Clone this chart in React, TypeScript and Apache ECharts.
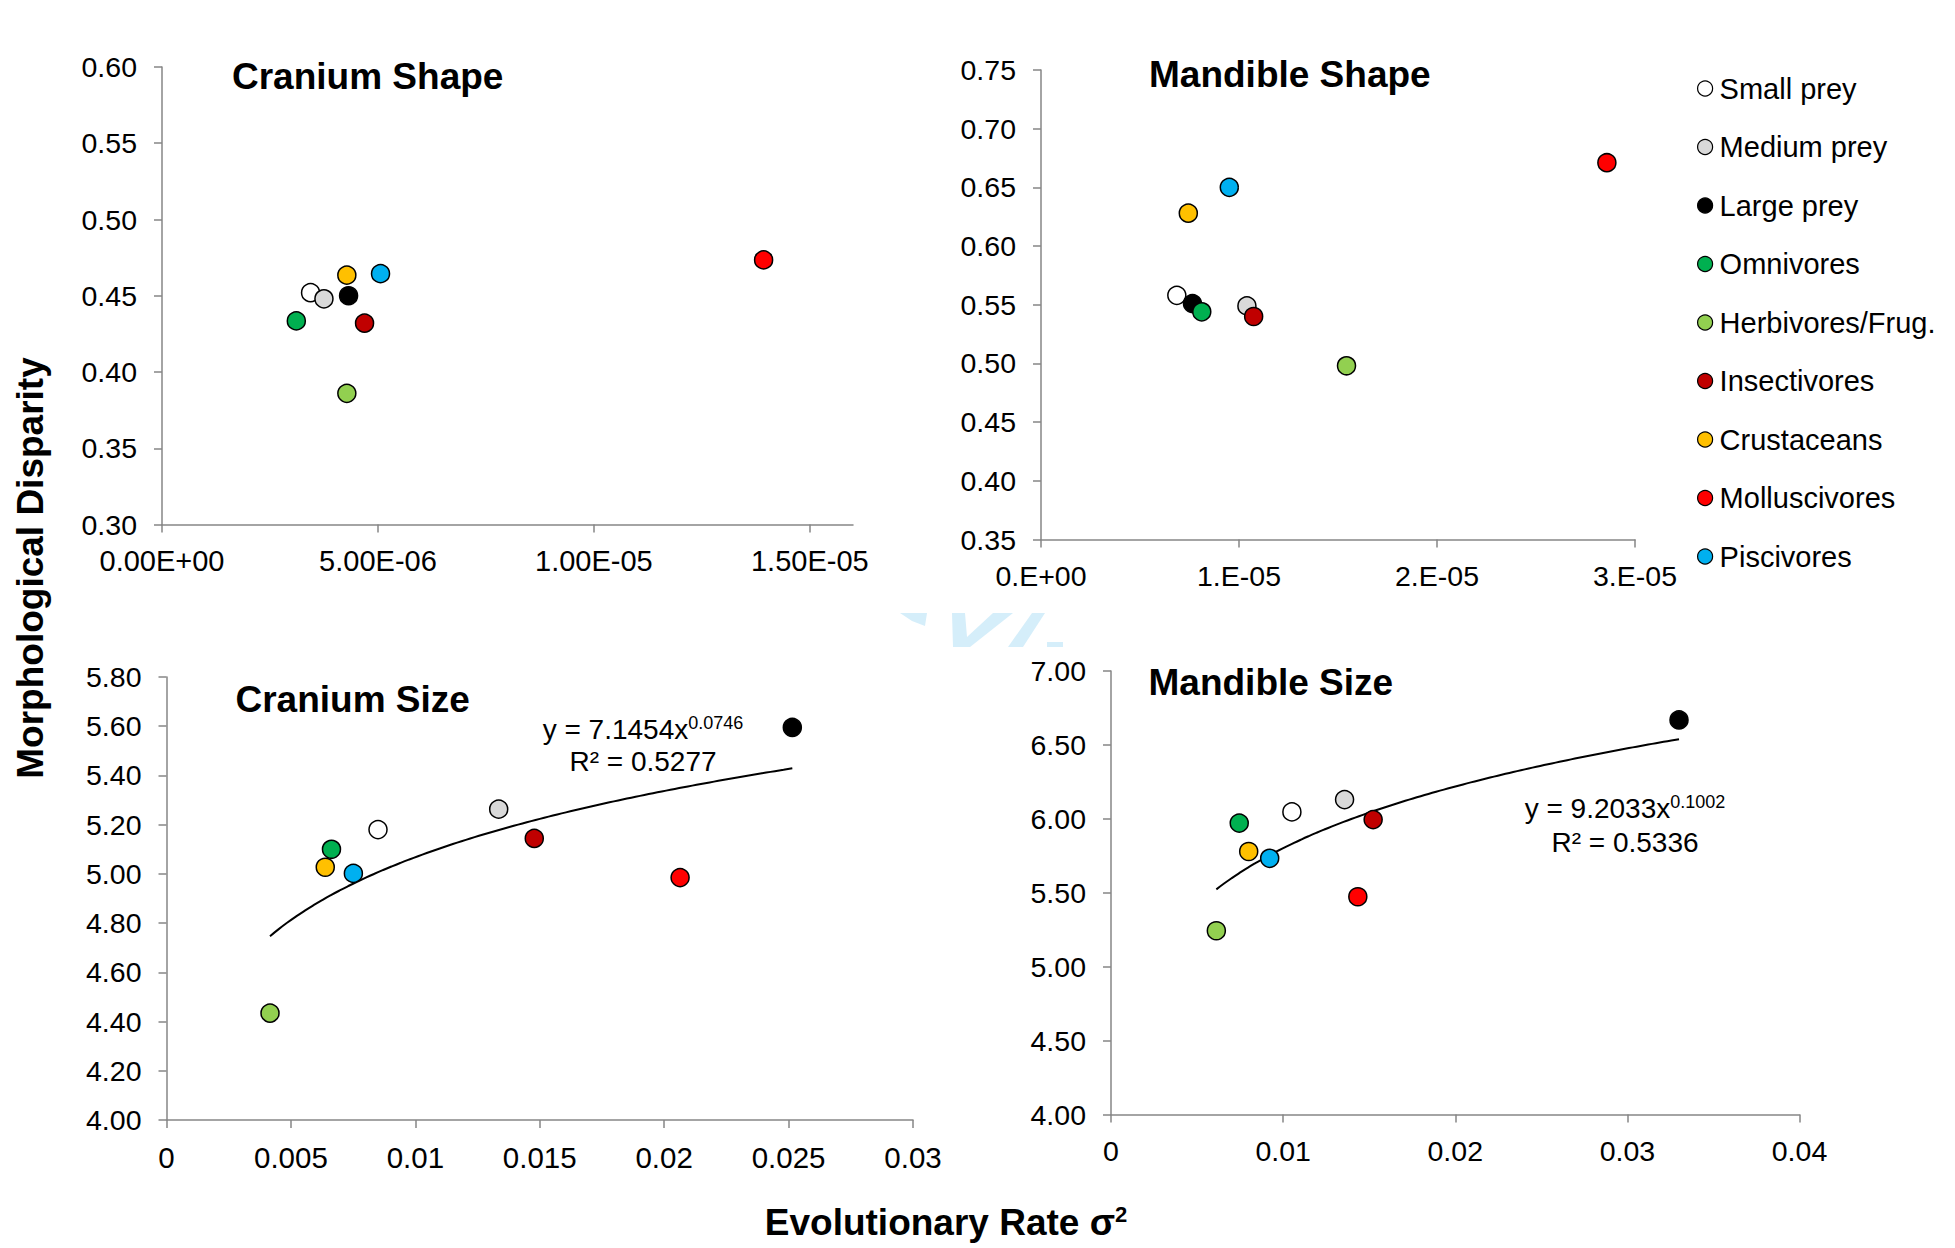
import React, { useEffect, useRef } from 'react';
import * as echarts from 'echarts';

const categories = ['Small prey', 'Medium prey', 'Large prey', 'Omnivores', 'Herbivores/Frug.', 'Insectivores', 'Crustaceans', 'Molluscivores', 'Piscivores'];
const categoryColors = ['#FFFFFF', '#D9D9D9', '#000000', '#00B050', '#92D050', '#C00000', '#FFC000', '#FF0000', '#00B0F0'];

// Cranium Shape
const craniumShapeRate = [3.44e-6, 3.75e-6, 4.32e-6, 3.11e-6, 4.28e-6, 4.69e-6, 4.28e-6, 13.93e-6, 5.06e-6];
const craniumShapeDisparity = [0.452, 0.448, 0.450, 0.4335, 0.386, 0.432, 0.4635, 0.4735, 0.4645];
// Mandible Shape
const mandibleShapeRate = [0.686e-5, 1.04e-5, 0.765e-5, 0.812e-5, 1.543e-5, 1.074e-5, 0.744e-5, 2.858e-5, 0.951e-5];
const mandibleShapeDisparity = [0.558, 0.549, 0.551, 0.544, 0.498, 0.540, 0.628, 0.671, 0.650];
// Cranium Size
const craniumSizeRate = [0.0085, 0.01335, 0.02515, 0.00663, 0.00416, 0.01478, 0.00638, 0.02064, 0.00751];
const craniumSizeDisparity = [5.18, 5.263, 5.595, 5.10, 4.434, 5.144, 5.027, 4.985, 5.002];
// Mandible Size
const mandibleSizeRate = [0.01051, 0.01357, 0.033, 0.00745, 0.00612, 0.01523, 0.0080, 0.01434, 0.00922];
const mandibleSizeDisparity = [6.047, 6.13, 6.669, 5.971, 5.243, 5.995, 5.779, 5.473, 5.733];

// Power-law trend lines printed on the chart: y = a * x^b
const craniumSizeTrendCoef = [7.1454, 0.0746];
const craniumSizeTrendRange = [0.00416, 0.02515];
const mandibleSizeTrendCoef = [9.2033, 0.1002];
const mandibleSizeTrendRange = [0.00612, 0.033];

const craniumShapeXTicks = [0, 5e-6, 1e-5, 1.5e-5];

const FONT = '"Liberation Sans", Arial, sans-serif';
const AXIS_COLOR = '#868686';

function sci(v: number, digits: number): string {
  if (Math.abs(v) < 1e-20) return (digits === 0 ? '0.' : '0.' + '0'.repeat(digits)) + 'E+00';
  const [m, e] = v.toExponential(digits).split('e');
  const n = parseInt(e, 10);
  const mant = digits === 0 ? m + '.' : m;
  return mant + 'E' + (n < 0 ? '-' : '+') + String(Math.abs(n)).padStart(2, '0');
}

function trendPoints(coef: number[], range: number[]): number[][] {
  const pts: number[][] = [];
  const n = 60;
  for (let i = 0; i <= n; i++) {
    const x = range[0] + ((range[1] - range[0]) * i) / n;
    pts.push([x, coef[0] * Math.pow(x, coef[1])]);
  }
  return pts;
}

const baseAxis = (extra: any) => ({
  type: 'value',
  axisLine: { show: true, onZero: false, lineStyle: { color: AXIS_COLOR, width: 1.5 } },
  axisTick: { show: true, length: 8, lineStyle: { color: AXIS_COLOR, width: 1.5 } },
  splitLine: { show: false },
  ...extra,
});

const xLabel = (fmt: (v: number) => string, size = 28) => ({
  fontSize: size,
  fontFamily: FONT,
  color: '#000',
  margin: 22,
  formatter: fmt,
});
const yLabel = () => ({
  fontSize: 28.5,
  fontFamily: FONT,
  color: '#000',
  margin: 25,
  formatter: (v: number) => v.toFixed(2),
});

export default function App() {
  const ref = useRef<HTMLDivElement>(null);
  useEffect(() => {
    if (!ref.current) return;
    const chart = echarts.init(ref.current, undefined, { renderer: 'svg' });

    const panels = [
      { xs: craniumShapeRate, ys: craniumShapeDisparity },
      { xs: mandibleShapeRate, ys: mandibleShapeDisparity },
      { xs: craniumSizeRate, ys: craniumSizeDisparity },
      { xs: mandibleSizeRate, ys: mandibleSizeDisparity },
    ];

    const series: any[] = [];
    panels.forEach((p, pi) => {
      categories.forEach((c, ci) => {
        series.push({
          type: 'scatter',
          name: c,
          xAxisIndex: pi,
          yAxisIndex: pi,
          symbol: 'circle',
          symbolSize: 18,
          z: 3,
          itemStyle: { color: categoryColors[ci], borderColor: '#000', borderWidth: 1.5, opacity: 1 },
          data: [[p.xs[ci], p.ys[ci]]],
        });
      });
    });
    series.push({
      type: 'line',
      name: 'trend-cranium',
      xAxisIndex: 2,
      yAxisIndex: 2,
      showSymbol: false,
      smooth: true,
      z: 1,
      lineStyle: { color: '#000', width: 2 },
      data: trendPoints(craniumSizeTrendCoef, craniumSizeTrendRange),
    });
    series.push({
      type: 'line',
      name: 'trend-mandible',
      xAxisIndex: 3,
      yAxisIndex: 3,
      showSymbol: false,
      smooth: true,
      z: 1,
      lineStyle: { color: '#000', width: 2 },
      data: trendPoints(mandibleSizeTrendCoef, mandibleSizeTrendRange),
    });

    const titleFont = `bold 37px ${FONT}`;
    const eqRich = {
      m: { fontSize: 28, fontFamily: FONT, color: '#000', lineHeight: 30 },
      s: { fontSize: 18, fontFamily: FONT, color: '#000', verticalAlign: 'top', lineHeight: 18 },
    };

    const option: any = {
      animation: false,
      backgroundColor: '#fff',
      grid: [
        { left: 162, top: 67, width: 691, height: 457.5 },
        { left: 1041, top: 70, width: 594, height: 469.5 },
        { left: 166.5, top: 677, width: 746.5, height: 443 },
        { left: 1111, top: 671, width: 688.5, height: 443.5 },
      ],
      xAxis: [
        baseAxis({
          gridIndex: 0, min: 0, max: 1.6e-5, interval: 5e-6,
          axisTick: { show: true, length: 8, customValues: craniumShapeXTicks, lineStyle: { color: AXIS_COLOR, width: 1.5 } },
          axisLabel: { ...xLabel((v) => sci(v, 2), 29), customValues: craniumShapeXTicks },
        }),
        baseAxis({ gridIndex: 1, min: 0, max: 3e-5, interval: 1e-5, axisLabel: xLabel((v) => sci(v, 0), 28.5) }),
        baseAxis({ gridIndex: 2, min: 0, max: 0.03, interval: 0.005, axisLabel: xLabel((v) => String(+v.toFixed(4)), 29.5) }),
        baseAxis({ gridIndex: 3, min: 0, max: 0.04, interval: 0.01, axisLabel: xLabel((v) => String(+v.toFixed(4)), 28.5) }),
      ],
      yAxis: [
        baseAxis({ gridIndex: 0, min: 0.3, max: 0.6, interval: 0.05, axisLabel: yLabel() }),
        baseAxis({ gridIndex: 1, min: 0.35, max: 0.75, interval: 0.05, axisLabel: yLabel() }),
        baseAxis({ gridIndex: 2, min: 4, max: 5.8, interval: 0.2, axisLabel: yLabel() }),
        baseAxis({ gridIndex: 3, min: 4, max: 7, interval: 0.5, axisLabel: yLabel() }),
      ],
      legend: {
        data: categories,
        orient: 'vertical',
        left: 1697,
        top: 74,
        padding: 0,
        itemGap: 29.5,
        itemWidth: 15,
        itemHeight: 15,
        icon: 'circle',
        selectedMode: false,
        itemStyle: { borderColor: '#000', borderWidth: 1.2 },
        textStyle: { fontSize: 29, fontFamily: FONT, color: '#000', lineHeight: 29, padding: [0, 0, 0, 2] },
      },
      graphic: [
        // faint watermark fragment
        { type: 'polygon', z: -10, shape: { points: [[900, 613], [927, 613], [925, 626], [912, 621]] }, style: { fill: '#D5EEFA' } },
        { type: 'polygon', z: -10, shape: { points: [[952, 613], [965, 613], [967, 637], [993, 613], [1013, 613], [970, 647], [953, 647]] }, style: { fill: '#D5EEFA' } },
        { type: 'polygon', z: -10, shape: { points: [[1032, 613], [1045, 613], [1023, 647], [1008, 647]] }, style: { fill: '#D5EEFA' } },
        { type: 'polygon', z: -10, shape: { points: [[1047, 642], [1063, 642], [1063, 647], [1047, 647]] }, style: { fill: '#D5EEFA' } },
        // panel titles
        { type: 'text', x: 232, y: 76.5, style: { text: 'Cranium Shape', font: titleFont, fill: '#000', align: 'left', verticalAlign: 'middle' } },
        { type: 'text', x: 1149, y: 74.5, style: { text: 'Mandible Shape', font: titleFont, fill: '#000', align: 'left', verticalAlign: 'middle' } },
        { type: 'text', x: 235.5, y: 699, style: { text: 'Cranium Size', font: titleFont, fill: '#000', align: 'left', verticalAlign: 'middle' } },
        { type: 'text', x: 1148.5, y: 682, style: { text: 'Mandible Size', font: titleFont, fill: '#000', align: 'left', verticalAlign: 'middle' } },
        // equations
        { type: 'text', x: 643, y: 729, style: { text: '{m|y = 7.1454x}{s|0.0746}', rich: eqRich, align: 'center', verticalAlign: 'middle' } },
        { type: 'text', x: 643, y: 761, style: { text: 'R² = 0.5277', font: `28px ${FONT}`, fill: '#000', align: 'center', verticalAlign: 'middle' } },
        { type: 'text', x: 1625, y: 808, style: { text: '{m|y = 9.2033x}{s|0.1002}', rich: eqRich, align: 'center', verticalAlign: 'middle' } },
        { type: 'text', x: 1625, y: 842, style: { text: 'R² = 0.5336', font: `28px ${FONT}`, fill: '#000', align: 'center', verticalAlign: 'middle' } },
        // axis titles
        { type: 'text', x: 30, y: 568, rotation: Math.PI / 2, style: { text: 'Morphological Disparity', font: titleFont, fill: '#000', align: 'center', verticalAlign: 'middle' } },
        {
          type: 'text', x: 946, y: 1222,
          style: {
            text: '{m|Evolutionary Rate σ}{s|2}',
            align: 'center', verticalAlign: 'middle',
            rich: {
              m: { font: titleFont, fill: '#000', color: '#000', lineHeight: 38 },
              s: { fontSize: 22, fontWeight: 'bold', fontFamily: FONT, color: '#000', verticalAlign: 'top', lineHeight: 22 },
            },
          },
        },
      ],
      series,
    };
    chart.setOption(option);
    return () => chart.dispose();
  }, []);

  return <div ref={ref} style={{ position: 'fixed', left: 0, top: 0, width: 1955, height: 1248, background: '#fff' }} />;
}
